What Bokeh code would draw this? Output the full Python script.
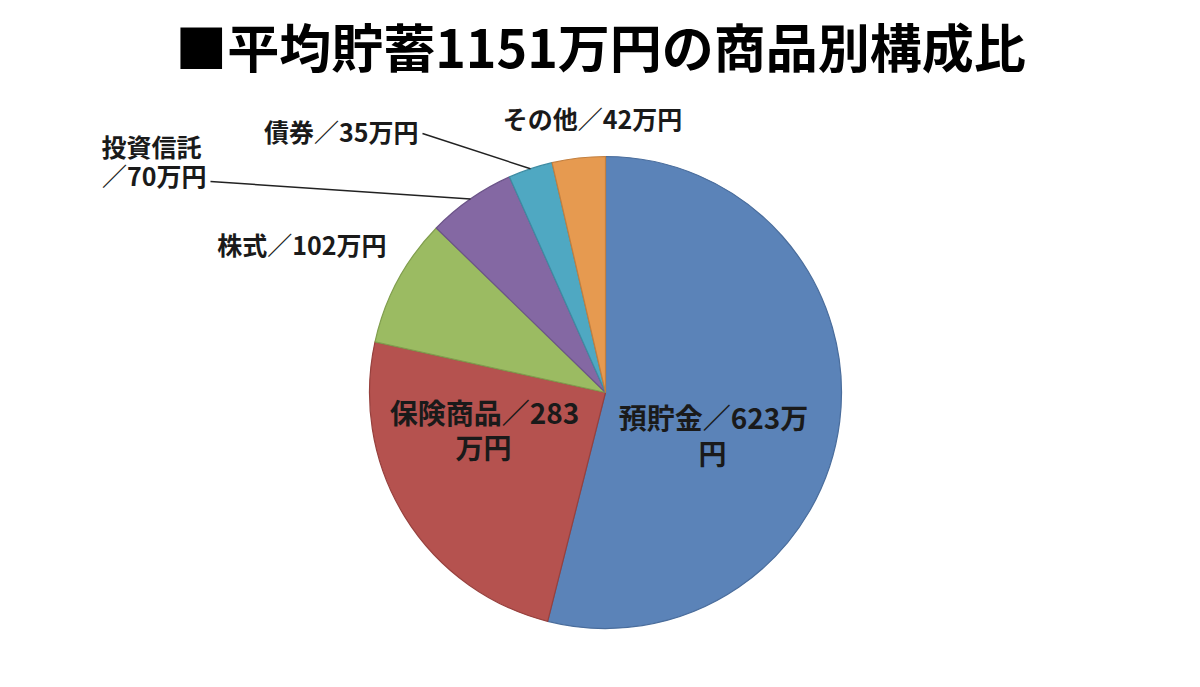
import numpy as np
from bokeh.plotting import figure
from bokeh.models import Range1d
from bokeh.core.properties import value
from bokeh.embed import file_html
from bokeh.resources import INLINE

title = "■平均貯蓄1151万円の商品別構成比"
categories = ["預貯金", "保険商品", "株式", "投資信託", "債券", "その他"]
amounts = [623, 283, 102, 70, 35, 42]
colors = ["#5B83B8", "#B5524F", "#9BBB62", "#8468A3", "#4FA8C2", "#E69A50"]
edges = ["#4A6D9C", "#97403D", "#809E4E", "#6C5489", "#3E8CA3", "#C27F3F"]

W, H = 1200, 687
FONT = value("Noto Sans CJK JP")

p = figure(width=W, height=H, x_range=Range1d(0, W), y_range=Range1d(0, H),
           output_backend="svg", toolbar_location=None, min_border=0)
p.axis.visible = False
p.grid.visible = False
p.outline_line_color = None
p.background_fill_color = "white"

cx, cy, r = 605, H - 392, 236
vals = np.array(amounts, dtype=float)
frac = np.cumsum(vals) / vals.sum()
prev = np.concatenate([[0.0], frac[:-1]])
start = np.pi / 2 - 2 * np.pi * prev
end = np.pi / 2 - 2 * np.pi * frac
p.wedge(x=cx, y=cy, radius=r, start_angle=start, end_angle=end, direction="clock",
        fill_color=colors, line_color=edges, line_width=1.2)

mid = (start + end) / 2

# title
p.text(x=[600], y=[H - 45], text=[title], text_font=FONT, text_font_style="bold",
       text_font_size="52px", text_align="center", text_baseline="middle", text_color="#000000")

lab = [f"{c}／{a}万円" for c, a in zip(categories, amounts)]
def txt(x, y, s, align="center", fs="25px"):
    p.text(x=[x], y=[H - y], text=[s], text_font=FONT, text_font_style="bold",
           text_font_size=fs, text_align=align, text_baseline="middle", text_color="#1a1a1a")

# inside labels
txt(713, 416, "預貯金／623万", fs="28px")
txt(712, 452, "円", fs="28px")
txt(484, 411, "保険商品／283", fs="28px")
txt(483, 446, "万円", fs="28px")
# outside labels
txt(386, 243, lab[2], "right")
txt(201, 145, "投資信託", "right")
txt(206, 174, "／70万円", "right")
txt(418, 130, lab[4], "right")
txt(592, 117, lab[5])

# leader lines to slice edges
for i, (lx, ly) in [(3, (210, 181)), (4, (422, 133))]:
    ex = cx + r * np.cos(mid[i])
    ey = cy + r * np.sin(mid[i])
    p.line(x=[lx, ex], y=[H - ly, ey], line_color="#222222", line_width=1.5)

open("out.html", "w").write(file_html(p, INLINE))
